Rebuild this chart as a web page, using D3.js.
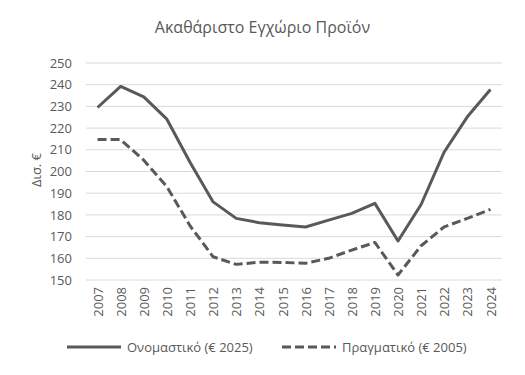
<!DOCTYPE html>
<html>
<head>
<meta charset="utf-8">
<script src="https://cdn.jsdelivr.net/npm/d3@7"></script>
<style>
  body { margin: 0; background: #fff; }
  text { font-family: "Open Sans", "Liberation Sans", sans-serif; fill: #595959; }
</style>
</head>
<body>
<div class="chart"></div>
<script>
// data
var years = ["2007", "2008", "2009", "2010", "2011", "2012", "2013", "2014", "2015",
             "2016", "2017", "2018", "2019", "2020", "2021", "2022", "2023", "2024"];
var nominal = [229.5, 239.2, 234.4, 224.1, 204.3, 186.0, 178.4, 176.4, 175.4,
               174.4, 177.6, 180.7, 185.3, 168.0, 184.8, 209.0, 225.2, 237.8];
var real = [214.7, 214.7, 205.2, 193.0, 175.0, 160.7, 157.2, 158.2, 158.1,
            157.7, 160.0, 163.8, 167.3, 152.3, 165.8, 174.5, 178.4, 182.5];
var yTicks = [150, 160, 170, 180, 190, 200, 210, 220, 230, 240, 250];
var seriesNames = ["Ονομαστικό (€ 2025)", "Πραγματικό (€ 2005)"];
var title = "Ακαθάριστο Εγχώριο Προϊόν";
var yTitle = "Δισ. €";

var svgWidth = 525, svgHeight = 375;
var margin = { top: 63, bottom: 95, right: 23, left: 86 };
var width = svgWidth - margin.left - margin.right;
var height = svgHeight - margin.top - margin.bottom;

var svg = d3.select(".chart").append("svg")
    .attr("width", svgWidth)
    .attr("height", svgHeight);

var chartGroup = svg.append("g")
    .attr("transform", `translate(${margin.left}, ${margin.top})`);

var xScale = d3.scalePoint()
    .domain(years)
    .range([0, width])
    .padding(0.5);

var yScale = d3.scaleLinear()
    .domain([150, 250])
    .range([height, 0]);

// gridlines
chartGroup.selectAll(".grid")
    .data(yTicks)
    .enter()
    .append("line")
    .attr("x1", 0)
    .attr("x2", width)
    .attr("y1", d => yScale(d))
    .attr("y2", d => yScale(d))
    .attr("stroke", "#d9d9d9")
    .attr("stroke-width", 1);

// y axis labels
var leftAxis = d3.axisLeft(yScale).tickValues(yTicks).tickSize(0).tickPadding(14);
var yAxis = chartGroup.append("g").call(leftAxis);
yAxis.select(".domain").remove();
yAxis.selectAll("text")
    .style("font-size", "13px")
    .style("font-family", "'Open Sans', sans-serif")
    .attr("fill", "#595959");

// x axis labels (rotated)
var bottomAxis = d3.axisBottom(xScale).tickSize(0).tickPadding(0);
var xAxis = chartGroup.append("g")
    .attr("transform", `translate(0, ${height})`)
    .call(bottomAxis);
xAxis.select(".domain").remove();
xAxis.selectAll("text")
    .style("font-size", "13px")
    .style("font-family", "'Open Sans', sans-serif")
    .attr("fill", "#595959")
    .attr("transform", "rotate(-90)")
    .attr("text-anchor", "end")
    .attr("x", -7)
    .attr("y", 0)
    .attr("dy", "0.35em");

// lines
var line = d3.line()
    .x((d, i) => xScale(years[i]))
    .y(d => yScale(d));

chartGroup.append("path")
    .datum(nominal)
    .attr("d", line)
    .attr("fill", "none")
    .attr("stroke", "#595959")
    .attr("stroke-width", 3)
    .attr("stroke-linejoin", "round");

chartGroup.append("path")
    .datum(real)
    .attr("d", line)
    .attr("fill", "none")
    .attr("stroke", "#595959")
    .attr("stroke-width", 3)
    .attr("stroke-dasharray", "9,4")
    .attr("stroke-linejoin", "round");

// title
svg.append("text")
    .attr("x", 262.5)
    .attr("y", 33)
    .attr("text-anchor", "middle")
    .style("font-size", "16px")
    .text(title);

// y axis title
svg.append("text")
    .attr("transform", `translate(41, 170) rotate(-90)`)
    .attr("text-anchor", "middle")
    .style("font-size", "13px")
    .text(yTitle);

// legend
var legend = svg.append("g").attr("transform", "translate(0, 347)");
var legendItems = [
    { x: 67, dash: null, name: seriesNames[0] },
    { x: 282, dash: "9,4", name: seriesNames[1] }
];
legendItems.forEach(function (item) {
    legend.append("line")
        .attr("x1", item.x)
        .attr("x2", item.x + 54)
        .attr("y1", 0)
        .attr("y2", 0)
        .attr("stroke", "#595959")
        .attr("stroke-width", 3)
        .attr("stroke-dasharray", item.dash);
    legend.append("text")
        .attr("x", item.x + 60)
        .attr("y", 0)
        .attr("dy", "0.35em")
        .style("font-size", "13px")
        .text(item.name);
});
</script>
</body>
</html>
